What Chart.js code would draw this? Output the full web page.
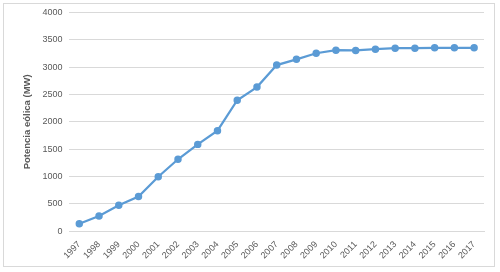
<!DOCTYPE html>
<html>
<head>
<meta charset="utf-8">
<script src="https://cdn.jsdelivr.net/npm/chart.js@4"></script>
<style>
  html, body { margin: 0; padding: 0; background: #fff; }
  #wrap { position: relative; width: 500px; height: 272px; }
  #frame { position: absolute; left: 3px; top: 3px; width: 492px; height: 264px; border: 1px solid #d9d9d9; box-sizing: border-box; }
  canvas { position: absolute; left: 0; top: 0; }
</style>
</head>
<body>
<div id="wrap">
  <div id="frame"></div>
  <canvas id="chart" width="500" height="272"></canvas>
</div>
<script>
const years = ['1997', '1998', '1999', '2000', '2001', '2002', '2003', '2004', '2005', '2006', '2007',
  '2008', '2009', '2010', '2011', '2012', '2013', '2014', '2015', '2016', '2017']
const potencia = [135, 278, 475, 635, 995, 1315, 1587, 1838, 2395, 2635, 3037,
  3142, 3253, 3309, 3305, 3327, 3346, 3346, 3352, 3352, 3352]
const yTitle = 'Potencia eólica (MW)'

const ctx = document.getElementById('chart')
new Chart(ctx, {
  type: 'line',
  data: {
    labels: years,
    datasets: [{
      data: potencia,
      borderColor: '#5b9bd5',
      backgroundColor: '#5b9bd5',
      borderWidth: 2.25,
      pointRadius: 2.6,
      pointHoverRadius: 2.6,
      tension: 0
    }]
  },
  options: {
    responsive: false,
    animation: false,
    layout: {padding: {left: 22, right: 16, top: 9, bottom: 11}},
    plugins: {legend: {display: false}, tooltip: {enabled: false}},
    scales: {
      x: {
        offset: true,
        grid: {display: false},
        border: {color: '#d9d9d9'},
        ticks: {
          color: '#595959',
          font: {family: 'Liberation Sans', size: 9},
          minRotation: 45, maxRotation: 45,
          autoSkip: false,
          padding: 0
        }
      },
      y: {
        min: 0, max: 4000,
        ticks: {
          stepSize: 500,
          color: '#595959',
          font: {family: 'Liberation Sans', size: 9},
          padding: 7,
          callback: v => String(v)
        },
        grid: {color: '#d9d9d9', drawTicks: false},
        border: {display: false},
        title: {
          display: true,
          text: yTitle,
          color: '#595959',
          font: {family: 'Liberation Sans', size: 9.5, weight: 'bold'},
          padding: {top: 0, bottom: 2}
        }
      }
    }
  }
})
</script>
</body>
</html>
